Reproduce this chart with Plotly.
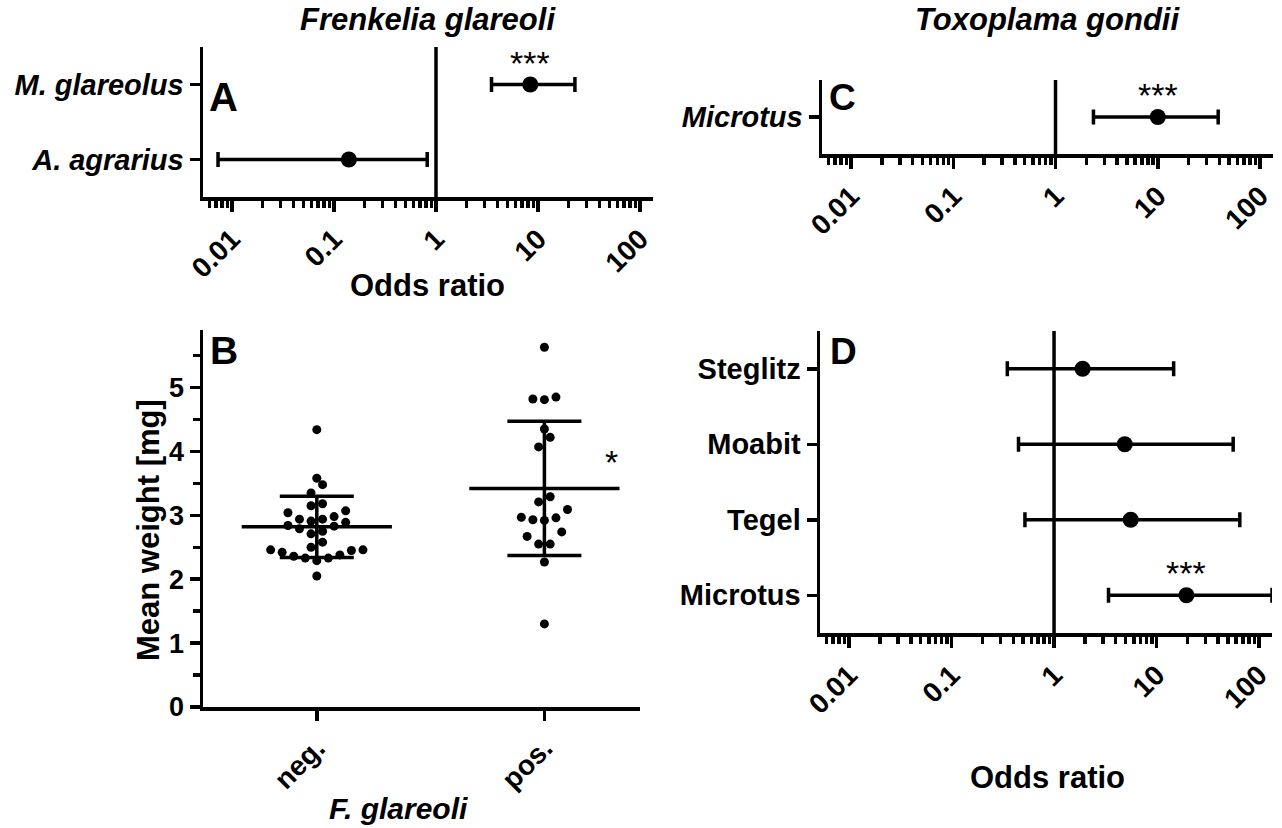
import math
import plotly.graph_objects as go

W, H = 1282, 828

# ---------------- data ----------------
# Panel A: Frenkelia glareoli odds ratios
a_species = ["A. agrarius", "M. glareolus"]
a_or = [0.14, 8.4]
a_lo = [0.0073, 3.5]
a_hi = [0.82, 23.0]
a_sig = ["", "***"]

# Panel C: Toxoplama gondii
c_species = ["Microtus"]
c_or = [10.0]
c_lo = [2.35]
c_hi = [39.0]
c_sig = ["***"]

# Panel D
d_sites = ["Microtus", "Tegel", "Moabit", "Steglitz"]
d_or = [19.6, 5.6, 4.9, 1.9]
d_lo = [3.4, 0.52, 0.45, 0.35]
d_hi = [134.0, 65.0, 56.0, 14.7]
d_sig = ["***", "", "", ""]

# Panel B: mean weight [mg]
b_groups = ["neg.", "pos."]
b_neg = [4.34, 3.58, 3.48, 3.35, 3.18, 3.15, 3.07, 3.04, 2.98, 2.94, 2.91, 2.94,
         2.89, 2.84, 2.83, 2.79, 2.75, 2.71, 2.58, 2.50, 2.46, 2.46, 2.45, 2.42,
         2.36, 2.33, 2.33, 2.38, 2.29, 2.05]
b_pos = [5.63, 4.85, 4.82, 4.81, 4.35, 4.22, 4.07, 3.29, 3.21, 3.09, 2.97, 2.96,
         2.93, 2.92, 2.74, 2.67, 2.55, 2.55, 2.27, 1.30]
b_mean = [2.82, 3.42]
b_sd = [0.48, 1.05]
b_sig = ["", "*"]

odds_ticks = [0.01, 0.1, 1, 10, 100]
odds_ticktext = ["0.01", "0.1", "1", "10", "100"]

# ---------------- helpers ----------------
FONT = "Liberation Sans, Arial, Helvetica, sans-serif"
LW = 3.5


def px(x):
    return x / W


def py(y):
    return 1 - y / H


def minor_log(lo, hi):
    vals = []
    for e in range(-4, 4):
        for k in range(2, 10):
            v = k * 10 ** e
            if lo <= v <= hi:
                vals.append(v)
    return vals


def swarm(values, center, bin_h=0.2, step=0.0507):
    """Simple row-centred beeswarm offsets (GraphPad-like)."""
    order = sorted(range(len(values)), key=lambda i: values[i])
    xs = [0.0] * len(values)
    groups = []
    for i in order:
        if groups and values[i] - values[groups[-1][0]] < bin_h:
            groups[-1].append(i)
        else:
            groups.append([i])
    for g in groups:
        n = len(g)
        g_sorted = sorted(g, key=lambda i: values[i])
        slots = sorted([(k - (n - 1) / 2) for k in range(n)], key=lambda s: (abs(s), s))
        for idx, s in zip(g_sorted, slots):
            xs[idx] = center + s * step
    return xs


fig = go.Figure()

# axis domains (pixels -> paper)
dom = {
    "A": ([203, 653], [47, 197]),
    "B": ([203, 640], [330, 707]),
    "C": ([822, 1273], [80, 154]),
    "D": ([820, 1272], [331, 633]),
}

log_lo, log_hi = 0.0052, 134.0

axis_common = dict(showline=True, linecolor="black", linewidth=LW, mirror=False,
                   ticks="outside", tickcolor="black", tickwidth=LW, ticklen=11,
                   showgrid=False, zeroline=False, automargin=False)

tick_font = dict(family=FONT, size=28, color="black", weight="bold")
cat_font = dict(family=FONT, size=29, color="black", weight="bold")


def odds_xaxis(name):
    xd, yd = dom[name]
    return dict(axis_common, type="log", domain=[px(xd[0]), px(xd[1])],
                range=[math.log10(log_lo), math.log10(log_hi)],
                tickvals=odds_ticks, ticktext=odds_ticktext, tickangle=-45,
                tickfont=tick_font,
                minor=dict(tickvals=minor_log(log_lo, log_hi), ticks="outside",
                           ticklen=7, tickwidth=LW, tickcolor="black"))


def forest(name, xa, ya, cats, orv, lo, hi, sig, italic):
    n = len(cats)
    yv = list(range(n))
    fig.add_trace(go.Scatter(
        x=orv, y=yv, mode="markers", xaxis=xa, yaxis=ya,
        marker=dict(size=16, color="black"),
        error_x=dict(type="data", symmetric=False,
                     array=[h - o for h, o in zip(hi, orv)],
                     arrayminus=[o - l for o, l in zip(orv, lo)],
                     thickness=LW, width=7.5, color="black"),
        showlegend=False, hoverinfo="skip"))
    for i, s in enumerate(sig):
        if s:
            fig.add_annotation(x=math.log10(orv[i]), y=yv[i], xref=xa, yref=ya,
                               text=s, showarrow=False, yshift=22,
                               font=dict(family=FONT, size=34, color="black"))
    xd, yd = dom[name]
    layout_y = dict(axis_common, domain=[py(yd[1]), py(yd[0])],
                    range=[-0.5, n - 0.5], tickvals=yv, ticktext=cats,
                    ticklen=10, anchor=xa, fixedrange=True,
                    tickfont=dict(cat_font, style="italic" if italic else "normal"))
    # vertical line at OR = 1
    fig.add_shape(type="line", xref=xa, yref=f"{ya} domain", x0=1, x1=1, y0=0, y1=1,
                  line=dict(color="black", width=LW))
    return layout_y


ya_A = forest("A", "x", "y", a_species, a_or, a_lo, a_hi, a_sig, True)
ya_C = forest("C", "x3", "y3", c_species, c_or, c_lo, c_hi, c_sig, True)
ya_D = forest("D", "x4", "y4", d_sites, d_or, d_lo, d_hi, d_sig, False)

# ---------------- Panel B ----------------
for gi, vals in enumerate([b_neg, b_pos]):
    fig.add_trace(go.Scatter(
        x=[gi - 0.33, gi + 0.33], y=[b_mean[gi], b_mean[gi]], mode="lines",
        xaxis="x2", yaxis="y2", line=dict(color="black", width=LW),
        showlegend=False, hoverinfo="skip"))
    fig.add_trace(go.Scatter(
        x=[gi], y=[b_mean[gi]], mode="markers", xaxis="x2", yaxis="y2",
        marker=dict(size=1, color="rgba(0,0,0,0)"),
        error_y=dict(type="data", array=[b_sd[gi]], thickness=LW, width=37,
                     color="black"),
        showlegend=False, hoverinfo="skip"))
    fig.add_trace(go.Scatter(
        x=swarm(vals, gi), y=vals, mode="markers", xaxis="x2", yaxis="y2",
        marker=dict(size=9, color="black"), showlegend=False, hoverinfo="skip"))
    if b_sig[gi]:
        fig.add_annotation(x=gi, y=b_mean[gi], xref="x2", yref="y2", text=b_sig[gi],
                           showarrow=False, xshift=67, yshift=26,
                           font=dict(family=FONT, size=34, color="black"))

xdB, ydB = dom["B"]

fig.update_layout(
    width=W, height=H,
    margin=dict(l=0, r=0, t=0, b=0),
    paper_bgcolor="white", plot_bgcolor="white",
    font=dict(family=FONT, color="black"),
    hovermode=False,
    xaxis=dict(odds_xaxis("A"), anchor="y"),
    yaxis=ya_A,
    xaxis3=dict(odds_xaxis("C"), anchor="y3"),
    yaxis3=ya_C,
    xaxis4=dict(odds_xaxis("D"), anchor="y4"),
    yaxis4=ya_D,
    xaxis2=dict(axis_common, domain=[px(xdB[0]), px(xdB[1])], anchor="y2",
                range=[-0.5, 1.42], tickvals=[0, 1], ticktext=b_groups,
                tickangle=-45, tickfont=tick_font, ticklen=10),
    yaxis2=dict(axis_common, domain=[py(ydB[1]), py(ydB[0])], anchor="x2",
                range=[0, 5.9], tickvals=[0, 1, 2, 3, 4, 5], ticklen=10,
                tickfont=dict(family=FONT, size=27, color="black", weight="bold"),
                minor=dict(dtick=0.5, ticks="outside", ticklen=7, tickwidth=LW,
                           tickcolor="black")),
)

# ---------------- text annotations ----------------
def text(x, y, s, size, italic=False, angle=0, bold=True):
    fig.add_annotation(x=px(x), y=py(y), xref="paper", yref="paper", text=s,
                       showarrow=False, xanchor="center", yanchor="middle",
                       textangle=angle,
                       font=dict(family=FONT, size=size, color="black",
                                 weight="bold" if bold else "normal",
                                 style="italic" if italic else "normal"))


text(428, 20, "Frenkelia glareoli", 31, italic=True)
text(1047, 20, "Toxoplama gondii", 31, italic=True)
text(427, 285, "Odds ratio", 31)
text(1047, 777, "Odds ratio", 31)
text(148, 530, "Mean weight [mg]", 31, angle=-90)
text(398, 808, "F. glareoli", 30, italic=True)
text(223, 97, "A", 40)
text(224, 350, "B", 39)
text(842, 98, "C", 37)
text(843, 351, "D", 37)

fig.write_html(
    "out.html",
    config={"displayModeBar": False, "staticPlot": True},
    post_script="document.body.style.margin='0';document.body.style.padding='0';"
                "document.body.style.overflow='hidden';",
)
